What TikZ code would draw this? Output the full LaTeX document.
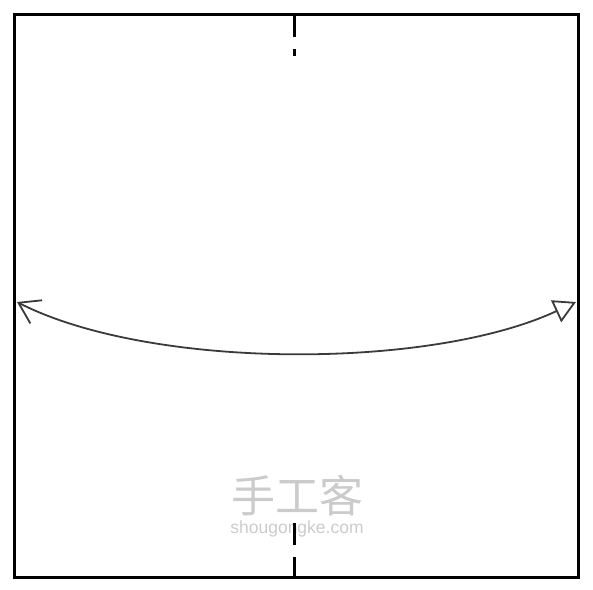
\documentclass[tikz,border=0pt]{standalone}
\usepackage{fontspec}
\setmainfont{Liberation Sans}
\newfontfamily\cjk{Noto Sans CJK SC}
\usetikzlibrary{arrows.meta}
\definecolor{wm}{HTML}{CBCBCB}
\definecolor{crv}{HTML}{3A3A3A}
\tikzset{
  frameline/.style={line width=3pt, black},
  foldline/.style={line width=3pt, black},
  movearrow/.style={line width=1.8pt, crv,
    {Straight Barb[length=20pt,width=26pt,line width=1.8pt]}-{Triangle[open,length=22pt,width=24pt,line width=1.8pt]}},
  wmtext/.style={text=wm, inner sep=0pt}
}
\begin{document}
\begin{tikzpicture}[x=1pt,y=-1pt]
\useasboundingbox (0,0) rectangle (593,589);
\node[wmtext, font=\cjk\fontsize{44}{46}\selectfont] (wmcn) at (297,496) {手工客};
\node[wmtext, font=\fontsize{17.5}{19}\selectfont] (wmen) at (297,529) {shougongke.com};
\coordinate (tl) at (14,14);
\coordinate (br) at (578,577);
\draw[frameline] (tl) rectangle (br);
\coordinate (t1) at (294,14);
\coordinate (t2) at (294,37);
\coordinate (t3) at (294,49);
\coordinate (t4) at (294,56);
\coordinate (b1) at (294,523);
\coordinate (b2) at (294,545);
\coordinate (b3) at (294,557);
\coordinate (b4) at (294,577);
\draw[foldline] (t1) -- (t2) (t3) -- (t4);
\draw[foldline] (b1) -- (b2) (b3) -- (b4);
\coordinate (ls) at (17,302);
\coordinate (re) at (576,302);
\draw[movearrow] (ls) .. controls (150,370) and (430,370) .. (re);
\end{tikzpicture}
\end{document}
